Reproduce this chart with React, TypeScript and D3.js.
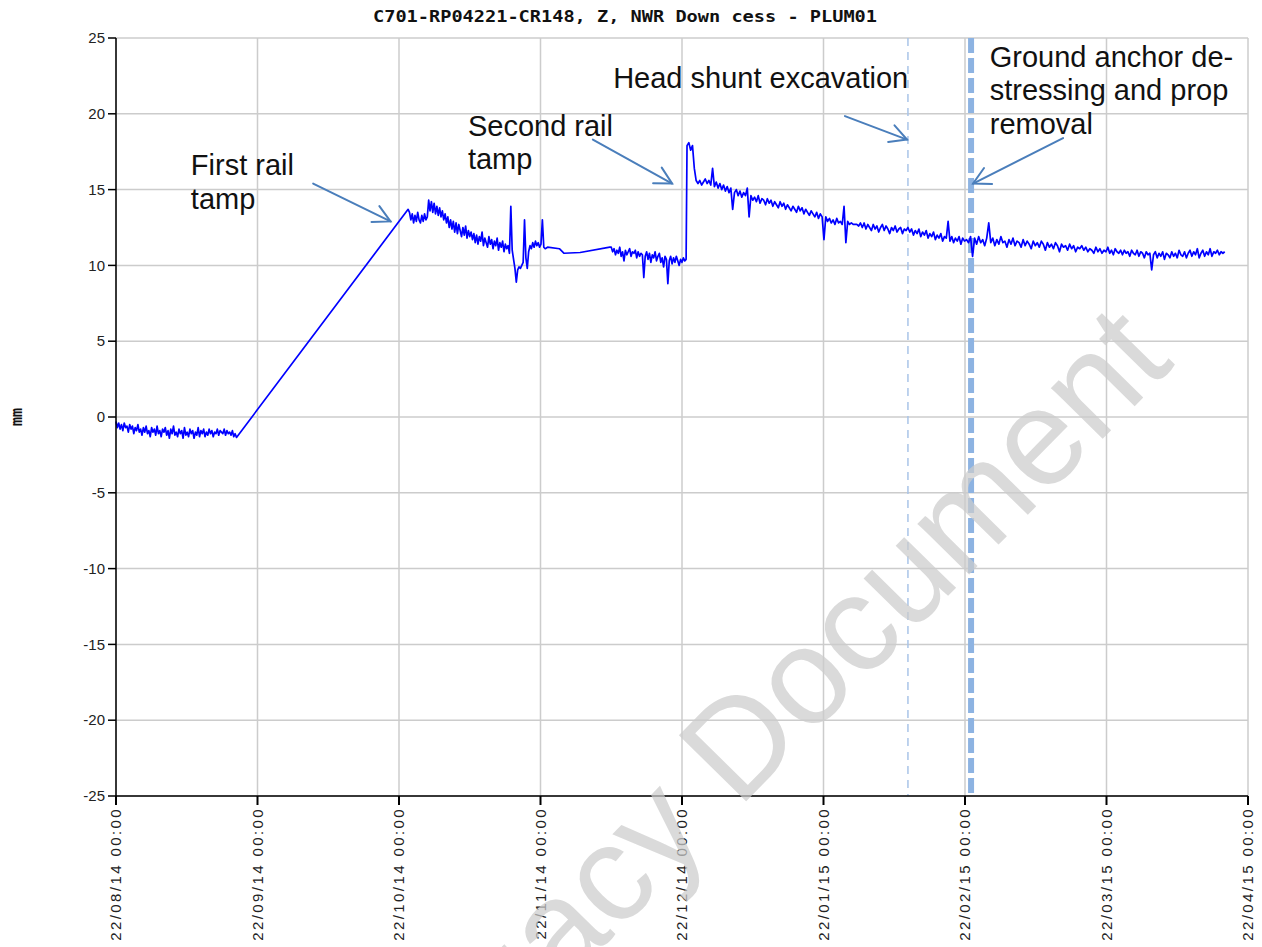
import React from "react";
import * as d3 from "d3";

const W = 1262;
const H = 947;
const M = { left: 116, right: 1248, top: 38, bottom: 796 };

const titleText = "C701-RP04221-CR148, Z, NWR Down cess - PLUM01";
const yLabel = "mm";

const tickDates = [
  "2014-08-22", "2014-09-22", "2014-10-22", "2014-11-22", "2014-12-22",
  "2015-01-22", "2015-02-22", "2015-03-22", "2015-04-22",
];
const tickLabels = [
  "22/08/14 00:00", "22/09/14 00:00", "22/10/14 00:00", "22/11/14 00:00", "22/12/14 00:00",
  "22/01/15 00:00", "22/02/15 00:00", "22/03/15 00:00", "22/04/15 00:00",
];
const yTicks = [25, 20, 15, 10, 5, 0, -5, -10, -15, -20, -25];

// Series: days after 22/08/14 00:00, regularly sampled blocks
const baseStart = 0;
const baseStep = 0.3;
const baseValues = [
  -0.3, -0.7, -0.4, -0.8, -0.5, -0.9, -0.4, -0.7, -0.6, -1.0,
  -0.5, -0.8, -0.6, -1.1, -0.7, -0.9, -0.5, -1.0, -0.8, -1.2,
  -0.7, -1.0, -0.6, -1.1, -0.9, -1.3, -0.7, -1.0, -0.8, -1.2,
  -0.6, -1.1, -0.9, -1.3, -0.8, -1.0, -0.7, -1.2, -0.9, -1.4,
  -0.8, -1.1, -0.6, -1.2, -1.0, -1.3, -0.8, -1.1, -0.9, -1.4,
  -0.7, -1.2, -1.0, -1.3, -0.8, -1.1, -0.9, -1.4, -1.0, -1.2,
  -0.7, -1.3, -0.9, -1.1, -0.8, -1.3, -1.0, -1.2, -0.8, -1.1,
  -0.9, -1.3, -1.0, -1.1, -0.8, -1.2, -0.9, -1.0, -1.1, -0.8,
  -1.2, -0.9, -1.1, -1.0, -1.2, -0.9, -1.3, -1.1, -1.35,
];

const octStart = 63;
const octStep = 0.3;
const octValues = [
  13.7, 13.5, 13.0, 13.4, 12.8, 13.3, 12.9, 13.5, 13.0, 12.8, 13.3, 12.9, 13.4, 13.0, 13.2,
  14.3,
  13.6, 14.2, 13.5, 14.1, 13.4, 13.9, 13.3, 13.8, 13.2, 13.6, 13.0, 13.4,
  12.8, 13.2, 12.5, 13.0, 12.4, 12.9, 12.2, 12.8, 12.1, 12.7, 12.3, 11.9, 12.5, 12.0, 12.6, 11.8,
  12.3, 11.9, 12.2,
  11.7, 12.1, 11.5, 12.0, 11.4, 11.9, 11.6, 12.2, 11.3, 11.8, 11.5, 11.2, 11.9, 11.4, 11.7, 11.1,
  11.6, 11.3, 11.8, 11.0, 11.5, 11.2, 11.6, 10.9, 11.4, 11.1, 11.3,
  10.8, 13.9, 11.0, 10.4, 9.8, 8.9,
  9.7, 9.9, 9.8, 10.0, 10.2,
  13.0,
  10.5, 9.8, 10.9, 11.3,
  11.1, 11.5, 11.2, 11.6, 11.3, 11.5, 11.2, 11.4, 13.0, 11.2,
  11.1,
];

const flatDays = [93.5, 96, 97, 100.4, 106.7];
const flatValues = [11.2, 11.1, 10.8, 10.85, 11.2];

const decStart = 107.0;
const decStep = 0.3;
const decValues = [
  11.2, 10.9, 11.1, 10.7, 11.0, 10.8, 11.2, 10.6, 10.9, 10.3,
  11.0, 10.7, 10.9, 11.1, 10.6, 10.9, 10.8, 11.0, 10.5, 10.9,
  10.6, 10.8, 10.7, 9.2, 10.6, 10.9, 10.4, 10.8, 10.2, 10.7,
  10.5, 10.9, 10.3, 10.6, 10.8, 10.2, 10.5, 9.9, 10.6, 10.4,
  8.8, 10.3, 10.6, 10.1, 10.5, 10.2, 10.6, 10.3, 10.0, 10.4,
  10.2, 10.5, 10.3, 10.4,
];

const postStart = 123.1;
const postStep = 0.4;
const postValues = [
  17.9, 18.1, 17.6, 17.9,
  16.4, 15.6,
  15.4, 15.6, 15.3, 15.5, 15.7, 15.4, 15.6, 15.3,
  16.4,
  15.2, 15.5, 15.1, 15.4, 15.0, 15.3, 14.9, 15.2, 14.8, 15.1,
  13.7,
  14.8, 15.0, 14.6, 14.9, 14.5, 14.8, 14.6,
  15.1, 13.2,
  14.6, 14.3, 14.5, 14.2, 14.6, 14.1, 14.4, 14.3, 14.0, 14.4,
  14.1, 14.3, 13.9, 14.2, 14.0, 13.8, 14.2, 13.9, 14.1, 13.7,
  14.0, 13.8, 13.6, 13.9, 13.7, 13.5, 13.9, 13.6, 13.8, 13.4,
  13.7, 13.5, 13.3, 13.6, 13.4, 13.2, 13.5, 13.1, 13.4, 13.2,
  11.7,
  13.2, 12.9, 13.1, 12.8, 13.0, 12.7, 13.1, 12.8, 12.9, 12.7,
  13.9, 11.5,
  12.9, 12.7, 12.8, 12.7, 12.7, 12.7, 12.6, 12.8, 12.5,
  12.8, 12.4, 12.7, 12.5, 12.3, 12.7, 12.4, 12.6, 12.2, 12.5, 12.7, 12.3,
  12.6, 12.4, 12.1, 12.5, 12.3, 12.6, 12.2, 12.4, 12.5, 12.1, 12.4, 12.3,
  12.5, 12.2, 12.4, 12.0, 12.3, 12.1, 12.4, 11.9, 12.2, 12.0, 12.3,
  11.8, 12.1, 11.9, 12.2, 11.7, 12.0, 11.8, 12.1, 11.6, 11.9, 11.8,
  12.9,
  11.6, 11.9, 11.5, 11.8, 11.6, 11.9, 11.4, 11.8, 11.6, 11.7, 11.5, 11.9,
  10.6,
  11.8, 11.4, 11.9, 11.5, 11.7, 11.3, 11.8,
  12.8,
  11.5, 11.8, 11.3, 11.7, 11.4, 11.9, 11.5, 11.6, 11.2, 11.7,
  11.4, 11.8, 11.3, 11.6, 11.5, 11.2, 11.7, 11.3, 11.6, 11.4,
  11.1, 11.6, 11.3, 11.5, 11.2, 11.6, 11.4, 11.0, 11.5, 11.2,
  11.4, 11.1, 11.5, 11.3, 10.9, 11.4, 11.2, 11.3, 11.0, 11.4,
  11.1, 11.3, 10.9, 11.2, 11.1, 11.3, 11.0,
  11.2, 10.9, 11.1, 11.0, 10.8, 11.2, 10.9, 11.1, 10.8, 11.0,
  10.9, 11.2, 10.8, 11.0, 10.7, 11.1, 10.9, 10.8, 11.0, 10.7,
  11.0, 10.8, 10.9, 10.6, 11.0, 10.8, 10.7, 11.0, 10.6, 10.9,
  10.8, 10.5, 10.9, 10.7, 10.8,
  9.7,
  10.7, 10.9, 10.5, 10.8, 10.6, 10.9, 10.4, 10.8, 10.7, 10.5,
  10.9, 10.6, 10.8, 10.5, 11.0, 10.7, 10.6, 10.9, 10.5, 10.8,
  11.0, 10.6, 10.9, 10.7, 11.1, 10.5, 10.8, 11.0, 10.6, 10.9,
  10.7, 11.1, 10.6, 10.9, 10.8, 11.0, 10.7, 10.9, 10.8, 10.9,
];

// Event markers (day offsets)
const headShuntDay = 171.5;
const groundAnchorDay = 185.2;

// Annotations: text anchor (day, value) and arrow tail/tip (day, value)
const annotLines = [
  ["First rail", "tamp"],
  ["Second rail", "tamp"],
  ["Head shunt excavation"],
  ["Ground anchor de-", "stressing and prop", "removal"],
];
const annotTextPos = [
  [16.4, 15.95],
  [76.1, 18.55],
  [107.4, 21.7],
  [188.9, 23.1],
];
const annotArrowTail = [
  [42.8, 15.4],
  [103.1, 18.3],
  [157.7, 19.85],
  [203.4, 18.4],
];
const annotArrowTip = [
  [59.2, 12.9],
  [119.9, 15.4],
  [171.3, 18.3],
  [185.6, 15.4],
];

const DAY = 86400000;
const t0 = Date.UTC(2014, 7, 22);
const toDate = (d: number) => new Date(t0 + d * DAY);
const parse = (s: string) => {
  const [y, m, d] = s.split("-").map(Number);
  return new Date(Date.UTC(y, m - 1, d));
};

type Pt = { date: Date; value: number };
const block = (start: number, step: number, vals: number[]): Pt[] =>
  vals.map((v, i) => ({ date: toDate(start + i * step), value: v }));

const series: Pt[] = [
  ...block(baseStart, baseStep, baseValues),
  ...block(octStart, octStep, octValues),
  ...flatDays.map((d, i) => ({ date: toDate(d), value: flatValues[i] })),
  ...block(decStart, decStep, decValues),
  ...block(postStart, postStep, postValues),
];

const FONT = "'Liberation Sans', Arial, sans-serif";

export default function App() {
  const tickD = tickDates.map(parse);
  const x = d3
    .scaleUtc()
    .domain(tickD)
    .range(tickD.map((_, i) => M.left + (i * (M.right - M.left)) / (tickD.length - 1)));
  const y = d3.scaleLinear().domain([-25, 25]).range([M.bottom, M.top]);
  const line = d3
    .line<Pt>()
    .x((d) => x(d.date))
    .y((d) => y(d.value));

  const arrowColor = "#4a7ebb";
  const arrows = annotArrowTip.map((tip, i) => {
    const tail = annotArrowTail[i];
    const x1 = x(toDate(tail[0]));
    const y1 = y(tail[1]);
    const x2 = x(toDate(tip[0]));
    const y2 = y(tip[1]);
    const ang = Math.atan2(y2 - y1, x2 - x1);
    const L = 19;
    const a = (28 * Math.PI) / 180;
    const h1 = [x2 - L * Math.cos(ang - a), y2 - L * Math.sin(ang - a)];
    const h2 = [x2 - L * Math.cos(ang + a), y2 - L * Math.sin(ang + a)];
    return (
      <g key={i} stroke={arrowColor} strokeWidth={2} fill="none" strokeLinecap="round">
        <line x1={x1} y1={y1} x2={x2} y2={y2} />
        <polyline points={`${h1[0]},${h1[1]} ${x2},${y2} ${h2[0]},${h2[1]}`} />
      </g>
    );
  });

  return (
    <svg
      width={W}
      height={H}
      style={{ position: "absolute", left: 0, top: 0, background: "#fff" }}
    >
      <rect x={0} y={0} width={W} height={H} fill="#fff" />
      {/* grid */}
      <g stroke="#cccccc" strokeWidth={1.5}>
        {yTicks.map((t) => (
          <line key={"gy" + t} x1={M.left} x2={M.right} y1={y(t)} y2={y(t)} />
        ))}
        {tickD.map((d, i) => (
          <line key={"gx" + i} x1={x(d)} x2={x(d)} y1={M.top} y2={M.bottom} />
        ))}
      </g>

      {/* event lines */}
      <line
        x1={x(toDate(headShuntDay))}
        x2={x(toDate(headShuntDay))}
        y1={M.top}
        y2={M.bottom}
        stroke="#a9c4e8"
        strokeWidth={1.5}
        strokeDasharray="8,6"
      />
      <line
        x1={x(toDate(groundAnchorDay))}
        x2={x(toDate(groundAnchorDay))}
        y1={M.top}
        y2={M.bottom}
        stroke="#8db3e2"
        strokeWidth={6}
        strokeDasharray="15,5"
      />

      {/* data */}
      <path d={line(series) || ""} fill="none" stroke="#0000ff" strokeWidth={1.7} strokeLinejoin="round" />

      {/* axes */}
      <g stroke="#000" strokeWidth={1.5}>
        <line x1={M.left} x2={M.left} y1={M.top} y2={M.bottom} />
        <line x1={M.left} x2={M.right} y1={M.bottom} y2={M.bottom} />
        {yTicks.map((t) => (
          <line key={"ty" + t} x1={M.left - 8} x2={M.left} y1={y(t)} y2={y(t)} />
        ))}
        {tickD.map((d, i) => (
          <line key={"tx" + i} x1={x(d)} x2={x(d)} y1={M.bottom} y2={M.bottom + 9} strokeWidth={2} />
        ))}
      </g>
      <g fontFamily={FONT} fontSize={15} fill="#222">
        {yTicks.map((t) => (
          <text key={"ly" + t} x={M.left - 11} y={y(t)} dy="0.35em" textAnchor="end">
            {t}
          </text>
        ))}
        {tickD.map((d, i) => (
          <text
            key={"lx" + i}
            transform={`translate(${x(d)},${M.bottom + 11}) rotate(-90)`}
            dy="0.35em"
            textAnchor="end"
            letterSpacing={2.4}
          >
            {tickLabels[i]}
          </text>
        ))}
      </g>

      {/* title and y label */}
      <text
        x={625}
        y={22}
        textAnchor="middle"
        fontFamily="'DejaVu Sans Mono', monospace"
        fontWeight="bold"
        fontSize={16}
        textLength={504}
        lengthAdjust="spacingAndGlyphs"
        fill="#111"
      >
        {titleText}
      </text>
      <text
        transform={`translate(17,${y(0)}) rotate(-90)`}
        textAnchor="middle"
        dy="0.35em"
        fontFamily="'DejaVu Sans Mono', monospace"
        fontWeight="bold"
        fontSize={15}
        fill="#111"
      >
        {yLabel}
      </text>

      {/* annotations */}
      {arrows}
      <g fontFamily={FONT} fontSize={29} fill="#111">
        {annotLines.map((lines, i) => (
          <text key={"an" + i} x={x(toDate(annotTextPos[i][0]))} y={y(annotTextPos[i][1])}>
            {lines.map((l, j) => (
              <tspan key={j} x={x(toDate(annotTextPos[i][0]))} dy={j === 0 ? 0 : 33.5}>
                {l}
              </tspan>
            ))}
          </text>
        ))}
      </g>

      {/* watermark */}
      <text
        transform="translate(1176,364) rotate(-45.5)"
        textAnchor="end"
        fontFamily={FONT}
        fontSize={137}
        fill="#cccccc"
        opacity={0.72}
      >
        Legacy Document
      </text>
    </svg>
  );
}
